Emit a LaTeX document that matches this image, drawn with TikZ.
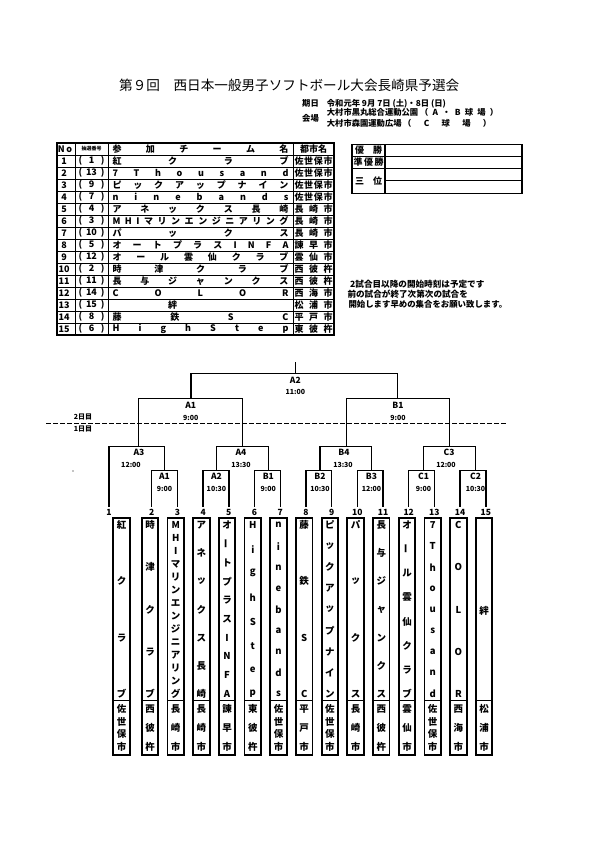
\documentclass[tikz,border=0pt]{standalone}
\usepackage{fontspec}
\usepackage{graphicx}
\setmainfont{Noto Sans CJK JP}
\newcommand{\fs}[1]{\fontsize{#1}{#1}\selectfont}
\newcommand{\vb}{\rotatebox[origin=c]{90}{ー}}
\begin{document}
\begin{tikzpicture}[x=1pt,y=-1pt,
  every node/.style={inner sep=0pt,font=\bfseries\fs{9}},
  tx/.style={font=\bfseries\fs{9}},
  bt/.style={font=\bfseries\fs{9.5}},
  hd/.style={font=\bfseries\fs{8.3},anchor=west},
  lbl/.style={font=\bfseries\fs{8.5}},
  num/.style={font=\bfseries\fs{8.5},outer sep=2.5pt},
  tm/.style={font=\bfseries\fs{7}},
  bl/.style={line width=1.4pt},
  teambox/.style={draw,line width=1.8pt,minimum width=16.5pt,minimum height=236.7pt},
  tl/.style={line width=0.8pt},
  dashln/.style={line width=1.3pt,dash pattern=on 4.5pt off 2.5pt}]
\useasboundingbox (0,0) rectangle (595,842);
\fill[white] (0,0) rectangle (595,842);

% ---------- heading
\node[anchor=west,font=\fs{13.6}] (title) at (119,85.5) {第９回　西日本一般男子ソフトボール大会長崎県予選会};
\node[hd] (kijitsu) at (302,103.3) {期日};
\node[hd] (date) at (326.7,103.3) {令和元年 9月 7日 (土)・8日 (日)};
\node[hd] (kaijo) at (302,118.3) {会場};
\node[hd] (ven1) at (326.7,112.7) {大村市黒丸総合運動公園};
\node[hd] (ven1b) at (420,112.7) {\hbox to 78pt{（\hfill A\hfill ・\hfill B\hfill 球\hfill 場\hfill ）}};
\node[hd] (ven2) at (326.7,123.3) {大村市森園運動広場};
\node[hd] (ven2b) at (403,123.3) {\hbox to 88pt{（\hfill C\hfill 球\hfill 場\hfill ）}};

% ---------- entry table
\draw[line width=1.2pt] (57,143) rectangle (334,335);
\foreach \k in {0,...,14} \draw[tl] (57,{155+12*\k}) -- (334,{155+12*\k});
\foreach \xx in {75,108,293} \draw[tl] (\xx,143) -- (\xx,335);
\node[tx] (hno) at (65,149) {N\,o};
\node[font=\bfseries\fs{5}] (hlot) at (91.5,149) {抽選番号};
\node[tx] (hname) at (200.5,149) {\hbox to 176pt{参\hfill 加\hfill チ\hfill ー\hfill ム\hfill 名}};
\node[tx] (hcity) at (313.5,149) {都市名};
\foreach \rn/\lot/\nm/\ct in {
1/1/{紅\hfill ク\hfill ラ\hfill ブ}/{佐\hfill 世\hfill 保\hfill 市},
2/13/{7\hfill T\hfill h\hfill o\hfill u\hfill s\hfill a\hfill n\hfill d}/{佐\hfill 世\hfill 保\hfill 市},
3/9/{ピ\hfill ッ\hfill ク\hfill ア\hfill ッ\hfill プ\hfill ナ\hfill イ\hfill ン}/{佐\hfill 世\hfill 保\hfill 市},
4/7/{n\hfill i\hfill n\hfill e\hfill b\hfill a\hfill n\hfill d\hfill s}/{佐\hfill 世\hfill 保\hfill 市},
5/4/{ア\hfill ネ\hfill ッ\hfill ク\hfill ス\hfill 長\hfill 崎}/{長\hfill 崎\hfill 市},
6/3/{M\hfill H\hfill I\hfill マ\hfill リ\hfill ン\hfill エ\hfill ン\hfill ジ\hfill ニ\hfill ア\hfill リ\hfill ン\hfill グ}/{長\hfill 崎\hfill 市},
7/10/{パ\hfill ッ\hfill ク\hfill ス}/{長\hfill 崎\hfill 市},
8/5/{オ\hfill ー\hfill ト\hfill プ\hfill ラ\hfill ス\hfill I\hfill N\hfill F\hfill A}/{諫\hfill 早\hfill 市},
9/12/{オ\hfill ー\hfill ル\hfill 雲\hfill 仙\hfill ク\hfill ラ\hfill ブ}/{雲\hfill 仙\hfill 市},
10/2/{時\hfill 津\hfill ク\hfill ラ\hfill ブ}/{西\hfill 彼\hfill 杵},
11/11/{長\hfill 与\hfill ジ\hfill ャ\hfill ン\hfill ク\hfill ス}/{西\hfill 彼\hfill 杵},
12/14/{C\hfill O\hfill L\hfill O\hfill R}/{西\hfill 海\hfill 市},
13/15/{\hfill 絆\hfill\hfill}/{松\hfill 浦\hfill 市},
14/8/{藤\hfill 鉄\hfill S\hfill C}/{平\hfill 戸\hfill 市},
15/6/{H\hfill i\hfill g\hfill h\hfill S\hfill t\hfill e\hfill p}/{東\hfill 彼\hfill 杵}}
{
  \node[tx] (no\rn) at (64,{149+12*\rn}) {\rn};
  \node[tx] (lot\rn) at (91.5,{149+12*\rn}) {\hbox to 26pt{(\hfill\lot\hfill)}};
  \node[tx] (nm\rn) at (200.5,{149+12*\rn}) {\hbox to 176pt{\nm}};
  \node[tx] (ct\rn) at (313.5,{149+12*\rn}) {\hbox to 38pt{\ct}};
}

% ---------- result table
\draw[line width=1.3pt] (352,144.3) rectangle (522,193.3);
\draw[tl] (352,156) -- (522,156);
\draw[tl] (352,168.3) -- (522,168.3);
\draw[line width=1.6pt] (385,180.7) -- (522,180.7);
\draw[line width=1.3pt] (385,144.3) -- (385,193.3);
\node[tx] (win) at (368.5,150.2) {\hbox to 27pt{優\hfill 勝}};
\node[tx] (second) at (368.5,162.2) {\hbox to 30pt{準\hfill 優\hfill 勝}};
\node[tx] (third) at (368.5,180.8) {\hbox to 27pt{三\hfill 位}};

% ---------- note
\node[hd,font=\bfseries\fs{8.6}] (note1) at (350,284) {2試合目以降の開始時刻は予定です};
\node[hd,font=\bfseries\fs{8.6}] (note2) at (347.3,294.3) {前の試合が終了次第次の試合を};
\node[hd,font=\bfseries\fs{8.4}] (note3) at (348.3,304.3) {開始します早めの集合をお願い致します。};

% ---------- bracket
\node[num] (p1) at (109,512.5) {1};
\foreach \i in {2,...,15} \node[num] (p\i) at ({151.7+25.7*(\i-2)},512.5) {\i};

\coordinate (mA1) at (164.5,470.7);
\coordinate (mA2) at (216.5,470.7);
\coordinate (mB1) at (268.3,470.7);
\coordinate (mB2) at (320,470.7);
\coordinate (mB3) at (371.5,470.7);
\coordinate (mC1) at (423.5,470.7);
\coordinate (mC2) at (475.5,470.7);
\coordinate (mA3) at (138.7,446.7);
\coordinate (mA4) at (242.7,446.7);
\coordinate (mB4) at (346.7,446.7);
\coordinate (mC3) at (449.3,446.7);
\coordinate (mA1u) at (191,398.3);
\coordinate (mB1u) at (397.7,398.3);
\coordinate (mA2u) at (295.3,373.3);
\coordinate (top) at (295.3,361.7);

\draw[bl] (p2.north) |- (mA1) -| (p3.north);
\draw[bl] (p4.north) |- (mA2) -| (p5.north);
\draw[bl] (p6.north) |- (mB1) -| (p7.north);
\draw[bl] (p8.north) |- (mB2) -| (p9.north);
\draw[bl] (p10.north) |- (mB3) -| (p11.north);
\draw[bl] (p12.north) |- (mC1) -| (p13.north);
\draw[bl] (p14.north) |- (mC2) -| (p15.north);
\draw[bl] (p1.north) |- (mA3) -| (mA1);
\draw[bl] (mA2) |- (mA4) -| (mB1);
\draw[bl] (mB2) |- (mB4) -| (mB3);
\draw[bl] (mC1) |- (mC3) -| (mC2);
\draw[bl] (mA3) |- (mA1u) -| (mA4);
\draw[bl] (mB4) |- (mB1u) -| (mC3);
\draw[bl] (mA1u) |- (mA2u) -| (mB1u);
\draw[bl] (mA2u) -- (top);

% match labels
\foreach \nm/\xx/\tt in {A1/164.5/9:00, A2/216.5/10:30, B1/268.3/9:00, B2/320/10:30, B3/371.5/12:00, C1/423.5/9:00, C2/475.5/10:30}{
  \node[lbl] (l1\nm) at (\xx,476.7) {\nm};
  \node[tm] (t1\nm) at (\xx,489.3) {\tt};
}
\node[lbl] (lA3) at (139,452.3) {A3};
\node[tm] (tA3) at (131,465) {12:00};
\node[lbl] (lA4) at (241,452.3) {A4};
\node[tm] (tA4) at (241,465) {13:30};
\node[lbl] (lB4) at (344,452.3) {B4};
\node[tm] (tB4) at (343,465) {13:30};
\node[lbl] (lC3) at (449,452.3) {C3};
\node[tm] (tC3) at (446,465) {12:00};
\node[lbl] (lA1u) at (190.7,405) {A1};
\node[tm] (tA1u) at (190.7,417.7) {9:00};
\node[lbl] (lB1u) at (398,405) {B1};
\node[tm] (tB1u) at (398,417.7) {9:00};
\node[lbl] (lA2u) at (295.3,380) {A2};
\node[tm] (tA2u) at (295.3,391.7) {11:00};

% day line
\coordinate (dl) at (46,423.3);
\coordinate (dr) at (508,423.3);
\draw[dashln] (dl) -- (dr);
\node[font=\bfseries\fs{7}] (day2) at (83,416.7) {2日目};
\node[font=\bfseries\fs{7}] (day1) at (83,429) {1日目};
\fill (73,471) circle (0.6);

% ---------- team boxes
\foreach \i/\nn/\chars/\mm/\cc in {
1/4/{紅,ク,ラ,ブ}/4/{佐,世,保,市},
2/5/{時,津,ク,ラ,ブ}/3/{西,彼,杵},
3/14/{M,H,I,マ,リ,ン,エ,ン,ジ,ニ,ア,リ,ン,グ}/3/{長,崎,市},
4/7/{ア,ネ,ッ,ク,ス,長,崎}/3/{長,崎,市},
5/10/{オ,\vb,ト,プ,ラ,ス,I,N,F,A}/3/{諫,早,市},
6/8/{H,i,g,h,S,t,e,p}/3/{東,彼,杵},
7/9/{n,i,n,e,b,a,n,d,s}/4/{佐,世,保,市},
8/4/{藤,鉄,S,C}/3/{平,戸,市},
9/9/{ピ,ッ,ク,ア,ッ,プ,ナ,イ,ン}/4/{佐,世,保,市},
10/4/{パ,ッ,ク,ス}/3/{長,崎,市},
11/7/{長,与,ジ,ャ,ン,ク,ス}/3/{西,彼,杵},
12/8/{オ,\vb,ル,雲,仙,ク,ラ,ブ}/3/{雲,仙,市},
13/9/{7,T,h,o,u,s,a,n,d}/4/{佐,世,保,市},
14/5/{C,O,L,O,R}/3/{西,海,市},
15/1/{絆}/3/{松,浦,市}}
{
  \ifnum\i=1 \def\bx{121.5}\else\pgfmathsetmacro{\bx}{141.7+25.7*(\i-2)+8.3}\fi
  \node[teambox] (b\i) at (\bx,636.6) {};
  \draw[line width=0.9pt] ({\bx-8.3},700) -- ({\bx+8.3},700);
  \foreach \c [count=\k] in \chars {
    \ifnum\nn=1 \def\yy{611}\else\pgfmathsetmacro{\yy}{525+169*(\k-1)/(\nn-1)}\fi
    \node[bt] (c\i-\k) at (\bx,\yy) {\c};
  }
  \foreach \c [count=\k] in \cc {
    \pgfmathsetmacro{\yy}{709+38*(\k-1)/(\mm-1)}
    \node[bt] (d\i-\k) at (\bx,\yy) {\c};
  }
}
\end{tikzpicture}
\end{document}
